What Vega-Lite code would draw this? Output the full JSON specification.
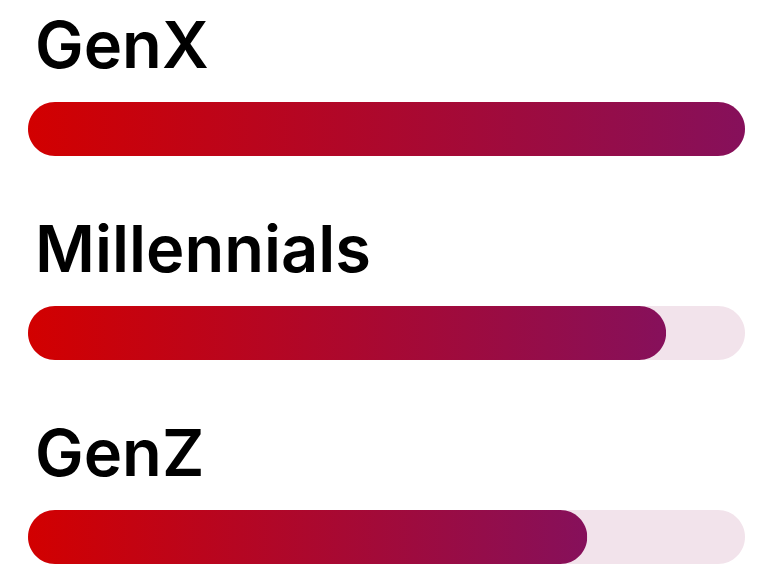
{
  "$schema": "https://vega.github.io/schema/vega-lite/v6.json",
  "autosize": "none",
  "width": 717,
  "height": 408,
  "padding": {"left": 28, "top": 129, "right": 18, "bottom": 37},
  "background": "white",
  "config": {"view": {"stroke": null}},
  "data": {"values": [
    {"gen": "GenX", "value": 100, "max": 100},
    {"gen": "Millennials", "value": 89, "max": 100},
    {"gen": "GenZ", "value": 78, "max": 100}
  ]},
  "encoding": {
    "y": {"field": "gen", "type": "nominal", "sort": null, "scale": {"type": "point", "padding": 0}, "axis": null}
  },
  "layer": [
    {
      "mark": {"type": "bar", "size": 54, "cornerRadius": 27, "color": "#f2e3eb"},
      "encoding": {"x": {"field": "max", "type": "quantitative", "scale": {"domain": [0, 100]}, "axis": null}}
    },
    {
      "mark": {"type": "bar", "size": 54, "cornerRadius": 27, "color": {"gradient": "linear", "x1": 0, "x2": 1, "y1": 0, "y2": 0, "stops": [{"offset": 0, "color": "#d20000"}, {"offset": 1, "color": "#86105b"}]}},
      "encoding": {"x": {"field": "value", "type": "quantitative"}}
    },
    {
      "mark": {"type": "text", "align": "left", "baseline": "alphabetic", "dx": 7, "dy": -61, "font": "Inter", "fontWeight": 600, "fontSize": 65, "color": "#000000"},
      "encoding": {"x": {"datum": 0, "type": "quantitative"}, "text": {"field": "gen"}}
    }
  ]
}
